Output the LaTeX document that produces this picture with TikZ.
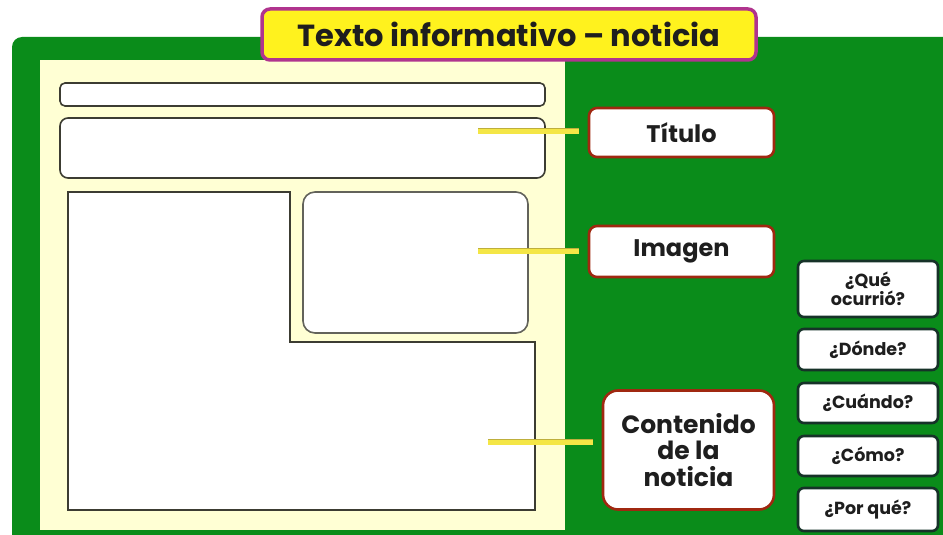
\documentclass[tikz,border=0pt]{standalone}
\usepackage{fontspec}
\setmainfont{Poppins}
\definecolor{bggreen}{RGB}{10,140,26}
\definecolor{paper}{RGB}{255,255,212}
\definecolor{titleyellow}{RGB}{255,242,30}
\definecolor{titleborder}{RGB}{176,52,142}
\definecolor{labelborder}{RGB}{160,40,16}
\definecolor{qborder}{RGB}{22,50,40}
\definecolor{boxline}{RGB}{60,60,50}
\definecolor{arrowyellow}{RGB}{244,230,70}
\definecolor{arrowedge}{RGB}{190,175,60}
\definecolor{txt}{RGB}{30,30,30}
\begin{document}
\begin{tikzpicture}[x=1pt,y=-1pt,
  labelbox/.style={draw=labelborder,line width=2.6pt,fill=white,rounded corners=8pt,
    text=txt,font=\bfseries\fontsize{24}{26}\selectfont,align=center,inner sep=0pt},
  qbox/.style={draw=qborder,line width=2.6pt,fill=white,rounded corners=6pt,
    text=txt,font=\bfseries\fontsize{17.5}{19}\selectfont,align=center,inner sep=0pt,
    minimum width=140pt},
  pagebox/.style={draw=boxline,line width=1.6pt,fill=white},
  pointer/.style={line width=5pt,line cap=round,draw=arrowyellow}]
\useasboundingbox (0,0) rectangle (943,535);
\clip (0,0) rectangle (943,535);
\fill[white] (0,0) rectangle (943,535);
% green board
\fill[bggreen,rounded corners=10pt] (12,37) rectangle (980,580);
% paper
\fill[paper] (40,60) rectangle (565,530);
% page layout boxes
\draw[pagebox,rounded corners=5pt] (60,83) rectangle (545,106);
\draw[pagebox,rounded corners=8pt] (60,118) rectangle (545,178);
\draw[pagebox] (68,192) -- (290,192) -- (290,342) -- (535,342) -- (535,510) -- (68,510) -- cycle;
\draw[pagebox,draw=boxline!80,rounded corners=12pt] (303,192) rectangle (528,333);
% title
\node[draw=titleborder,line width=3.5pt,fill=titleyellow,rounded corners=8pt,
  minimum width=494pt,minimum height=51pt,text=txt,inner sep=0pt,
  font=\bfseries\fontsize{30.5}{32}\selectfont] (title) at (509,34.5) {Texto informativo – noticia};
% labels
\node[labelbox,minimum width=185pt,minimum height=49pt] (titulo) at (681.5,132.5) {Título};
\node[labelbox,minimum width=185pt,minimum height=51pt] (imagen) at (681.5,251.5) {Imagen};
\node[labelbox,rounded corners=15pt,minimum width=171pt,minimum height=119pt,
  font=\bfseries\fontsize{25}{26.5}\selectfont] (contenido) at (688.5,450) {Contenido\\de la\\noticia};
% questions
\node[qbox,minimum height=56pt] (q1) at (868,289) {¿Qué\\ocurrió?};
\node[qbox,minimum height=41pt] (q2) at (868,349.5) {¿Dónde?};
\node[qbox,minimum height=40pt] (q3) at (868,403) {¿Cuándo?};
\node[qbox,minimum height=40pt] (q4) at (868,456) {¿Cómo?};
\node[qbox,minimum height=43pt] (q5) at (868,509.5) {¿Por qué?};
% pointers
\coordinate (p1) at (478,131);
\coordinate (p2) at (478,251);
\coordinate (p3) at (488,442);
\foreach \s/\t in {p1/titulo,p2/imagen,p3/contenido}{
  \draw[line width=6.4pt,draw=arrowedge,line cap=butt,shorten >=9pt] (\s) -- (\s -| \t.west);
  \draw[pointer,line cap=butt,shorten >=9pt] (\s) -- (\s -| \t.west);
}
\end{tikzpicture}
\end{document}
